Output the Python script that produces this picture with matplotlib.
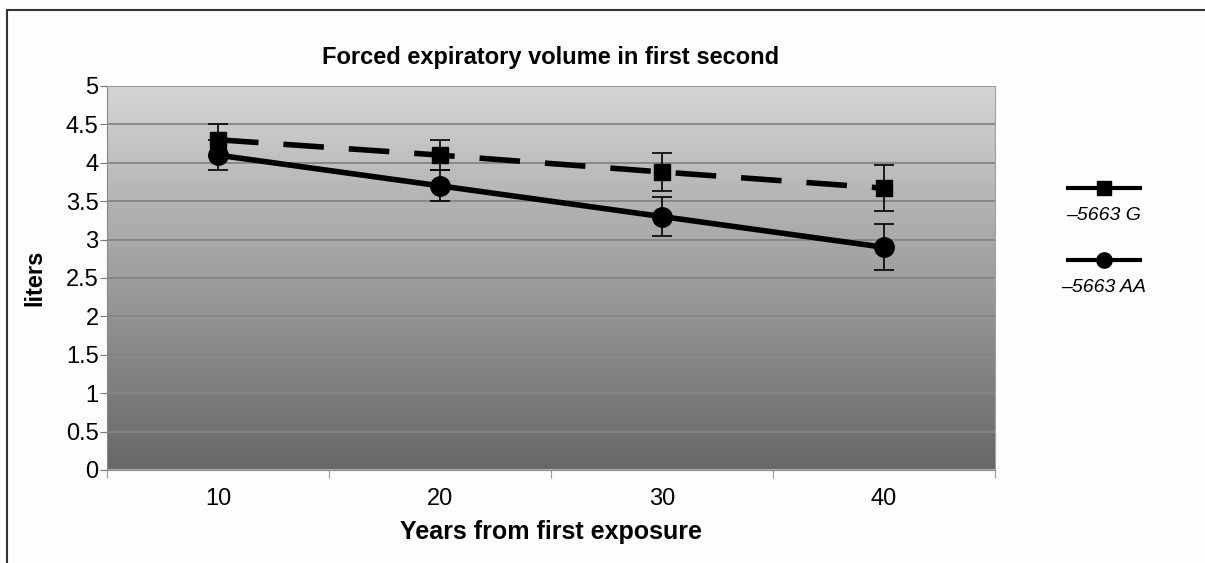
import numpy as np
import matplotlib
matplotlib.use("Agg")
import matplotlib.pyplot as plt
from matplotlib.lines import Line2D
from matplotlib.colors import LinearSegmentedColormap

plt.rcParams['font.family'] = ['Liberation Sans', 'DejaVu Sans']

# Données
years = ['10', '20', '30', '40']
fev_g = [4.3, 4.1, 3.88, 3.67]
err_g = [0.2, 0.2, 0.25, 0.3]
fev_aa = [4.1, 3.7, 3.3, 2.9]
err_aa = [0.2, 0.2, 0.25, 0.3]
labels = ['\u20135663 G', '\u20135663 AA']

W, H = 1205, 563
fig = plt.figure(figsize=(W / 100, H / 100), dpi=100)
fig.patch.set_facecolor('#fdfdfd')

# cadre extérieur (haut et gauche seulement)
fig.add_artist(Line2D([7 / W, 7 / W], [0, 1 - 10 / H], color='#333333', lw=1.5))
fig.add_artist(Line2D([7 / W, 1], [1 - 10 / H, 1 - 10 / H], color='#333333', lw=1.5))

ax = fig.add_axes([107 / W, 1 - 470 / H, 888 / W, 384 / H])
x = np.arange(len(years)) + 0.5

# fond dégradé
cmap = LinearSegmentedColormap.from_list('fond', ['#686666', '#d6d4d4'])
grad = np.linspace(0, 1, 256).reshape(-1, 1)
ax.imshow(grad, cmap=cmap, aspect='auto', origin='lower',
          extent=[0, len(years), 0, 5], zorder=0)

for yv in np.arange(0.5, 5.0, 0.5):
    ax.axhline(yv, color='#858383', lw=1.3, zorder=1)
ax.axhline(0, color='#bdbdbd', lw=2, zorder=2)

ax.errorbar(x, fev_g, yerr=err_g, color='black', lw=4, ls=(0, (7.3, 4.5)),
            marker='s', markersize=11.5, ecolor='black', elinewidth=1.2,
            capsize=7, capthick=1.2, zorder=3)
ax.errorbar(x, fev_aa, yerr=err_aa, color='black', lw=4, ls='-',
            marker='o', markersize=14, ecolor='black', elinewidth=1.2,
            capsize=7, capthick=1.2, zorder=4)

ax.set_xlim(0, len(years))
ax.set_ylim(0, 5)
ax.set_yticks(np.arange(0, 5.01, 0.5))
ax.set_yticklabels(['0', '0.5', '1', '1.5', '2', '2.5', '3', '3.5', '4', '4.5', '5'])
ax.set_xticks(np.arange(0, len(years) + 1), minor=False)
ax.set_xticklabels([])
ax.set_xticks(x, minor=True)
ax.set_xticklabels(years, minor=True)
ax.tick_params(axis='x', which='major', length=6, color='#999999')
ax.tick_params(axis='x', which='minor', length=0, labelsize=17, pad=13)
ax.tick_params(axis='y', length=5, color='#777777', labelsize=17, pad=1)

for s in ['left', 'bottom']:
    ax.spines[s].set_color('#888888')
for s in ['top', 'right']:
    ax.spines[s].set_color('#a0a0a0')

ax.set_title('Forced expiratory volume in first second', fontsize=17,
             fontweight='bold', pad=16)
ax.set_xlabel('Years from first exposure', fontsize=18, fontweight='bold', labelpad=7)
ax.set_ylabel('liters', fontsize=17, fontweight='bold', labelpad=14)

# légende
for i, (mk, ms, lab) in enumerate([('s', 10, labels[0]), ('o', 11, labels[1])]):
    yl = 1 - (188 + 72 * i) / H
    fig.add_artist(Line2D([1068 / W, 1140 / W], [yl, yl], color='black', lw=3))
    fig.add_artist(Line2D([1104 / W], [yl], color='black', marker=mk,
                          markersize=ms, lw=0))
    fig.text(1104 / W, yl - 27 / H, lab, fontsize=14, style='italic',
             ha='center', va='center')

fig.savefig('out.png', dpi=100, facecolor=fig.get_facecolor())
